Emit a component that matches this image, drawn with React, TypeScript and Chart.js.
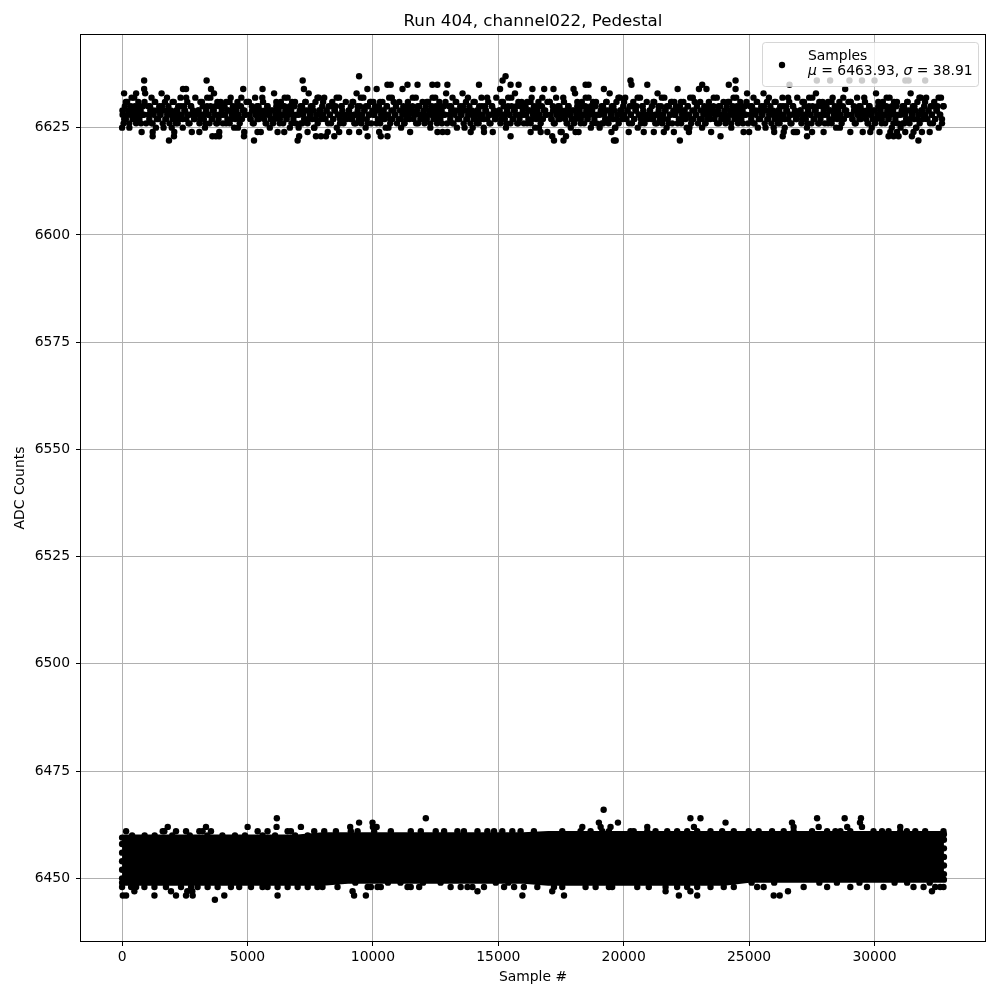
import React, { useEffect, useRef } from "react";
import { Chart, registerables } from "chart.js";

Chart.register(...registerables);

const chartTitle = "Run 404, channel022, Pedestal";
const xAxisLabel = "Sample #";
const yAxisLabel = "ADC Counts";
const legendName = "Samples";
const statMu = "6463.93";
const statSigma = "38.91";

const xTicks = [0, 5000, 10000, 15000, 20000, 25000, 30000];
const yTicks = [6450, 6475, 6500, 6525, 6550, 6575, 6600, 6625];
const xRange = [-1638, 34405];
const yRange = [6435.4, 6646.6];

// Dense pedestal core (lower band): visible lower / upper levels every 1000 samples
const coreX = [0, 1000, 2000, 3000, 4000, 5000, 6000, 7000, 8000, 9000, 10000, 11000, 12000, 13000, 14000, 15000, 16000, 17000, 18000, 19000, 20000, 21000, 22000, 23000, 24000, 25000, 26000, 27000, 28000, 29000, 30000, 31000, 32000, 32767];
const coreTop = [6459.5, 6459.5, 6459.5, 6459.5, 6459.5, 6459.5, 6459.5, 6459.5, 6460, 6460, 6460, 6460, 6460, 6460, 6460, 6460, 6460, 6460.3, 6460.3, 6460.3, 6460.3, 6460.3, 6460.3, 6460.3, 6460.3, 6460.3, 6460.3, 6460.3, 6460.3, 6460.3, 6460.3, 6460.3, 6460.3, 6460.3];
const coreBottom = [6449, 6449, 6449, 6449, 6449, 6449, 6449, 6449, 6449, 6449.5, 6449.5, 6449.5, 6449.5, 6449.5, 6449.5, 6449.5, 6449.5, 6449, 6449, 6449, 6449, 6449, 6449, 6449, 6449, 6449.7, 6449.7, 6449.7, 6449.7, 6449.7, 6449.7, 6449.7, 6449.7, 6449.7];

// Lower band: individually visible samples outside the dense core
const lowerX = [
  0, 0, 0, 0, 0, 32767, 32767, 32767, 32767, 32767,
  400, 900, 1300, 2000, 2700, 3400, 4000, 4500, 4900, 5600, 6100, 6900, 7400,
  160, 1620, 1685, 2150, 2550, 3080, 3210, 3545, 5405, 5800, 6600, 6730, 7660,
  8060, 8525, 9120, 9390, 10050, 10715, 11510, 11910, 12505, 12840, 13370, 13630, 14170, 14565, 14830, 15160, 15560, 15890,
  16420, 17550, 18280, 18680, 19145, 19410, 20270, 20400, 20940, 21270, 21735, 22130, 22530, 22930, 23460, 23925, 24390,
  24985, 25380, 25915, 26380, 26775, 27510, 28110, 28440, 28640, 29035, 29960, 30300, 30560, 31025, 31290, 31625, 32020, 32750,
  1820, 3345, 5005, 6160, 7130, 9095, 10000, 10150, 18350, 19080, 19475, 20940, 22800, 26775, 27775, 28910, 29500, 31025,
  9450, 9985, 19010, 19770, 24060, 26710, 29420,
  6170, 12110, 22660, 23060, 27710, 28810, 29460,
  19200,
  0, 360, 560, 890, 1290, 1750, 2350, 2750, 3010, 3410, 3810, 4340, 4670, 5140, 5600, 5800, 6200, 6600, 7000, 7400, 7790,
  7990, 8590, 9790, 9920, 10185, 10315, 11380, 11510, 11845, 13100, 13500, 13770, 13970, 14430, 15230, 15630, 16020,
  16555, 17220, 17550, 18480, 18880, 19410, 19540, 20540, 21000, 21670, 22130, 22530, 22930, 23460, 23990, 24390,
  25320, 25580, 27175, 28110, 29035, 29700, 30360, 31555, 31955, 32420, 32620, 32750,
  9300, 10600, 11100, 12000, 12700, 14900, 15400, 25100, 26000, 27800, 28500, 29400, 30800, 31300, 32200,
  490, 1950, 2600, 2800, 9190, 14170, 17150, 21670, 22660, 26550, 32290,
  30, 160, 1290, 2150, 2550, 2815, 4075, 6200, 9250, 9720, 15960, 17620, 22200, 22930, 25980, 26220,
  3700,
];
const lowerY = [
  6450, 6452, 6454, 6456, 6458, 6451, 6453, 6455, 6457, 6459,
  6460, 6460, 6460, 6460, 6460, 6460, 6460, 6460, 6460, 6460, 6460, 6460, 6460,
  6461, 6461, 6461, 6461, 6461, 6461, 6461, 6461, 6461, 6461, 6461, 6461, 6461,
  6461, 6461, 6461, 6461, 6461, 6461, 6461, 6461, 6461, 6461, 6461, 6461, 6461, 6461, 6461, 6461, 6461, 6461,
  6461, 6461, 6461, 6461, 6461, 6461, 6461, 6461, 6461, 6461, 6461, 6461, 6461, 6461, 6461, 6461, 6461,
  6461, 6461, 6461, 6461, 6461, 6461, 6461, 6461, 6461, 6461, 6461, 6461, 6461, 6461, 6461, 6461, 6461, 6461,
  6462, 6462, 6462, 6462, 6462, 6462, 6462, 6462, 6462, 6462, 6462, 6462, 6462, 6462, 6462, 6462, 6462, 6462,
  6463, 6463, 6463, 6463, 6463, 6463, 6463,
  6464, 6464, 6464, 6464, 6464, 6464, 6464,
  6466,
  6448, 6448, 6448, 6448, 6448, 6448, 6448, 6448, 6448, 6448, 6448, 6448, 6448, 6448, 6448, 6448, 6448, 6448, 6448, 6448, 6448,
  6448, 6448, 6448, 6448, 6448, 6448, 6448, 6448, 6448, 6448, 6448, 6448, 6448, 6448, 6448, 6448, 6448,
  6448, 6448, 6448, 6448, 6448, 6448, 6448, 6448, 6448, 6448, 6448, 6448, 6448, 6448, 6448, 6448,
  6448, 6448, 6448, 6448, 6448, 6448, 6448, 6448, 6448, 6448, 6448, 6448,
  6449, 6449, 6449, 6449, 6449, 6449, 6449, 6449, 6449, 6449, 6449, 6449, 6449, 6449, 6449,
  6447, 6447, 6447, 6447, 6447, 6447, 6447, 6447, 6447, 6447, 6447,
  6446, 6446, 6446, 6446, 6446, 6446, 6446, 6446, 6446, 6446, 6446, 6446, 6446, 6446, 6446, 6446,
  6445,
];

// Upper band samples
const upperX = [
  20, 60, 110, 150, 200, 240, 290, 330, 380, 420, 470, 510, 560, 600, 650, 690, 740, 780, 830, 870, 920, 960,
  1040, 1085, 1125, 1175, 1215, 1260, 1305, 1350, 1395, 1440, 1485, 1530, 1575, 1620, 1665, 1710, 1755, 1800, 1845, 1890, 1935, 1980,
  2020, 2060, 2110, 2150, 2200, 2240, 2290, 2330, 2380, 2420, 2470, 2510, 2560, 2600, 2650, 2690, 2740, 2780, 2830, 2870, 2920, 2960,
  3040, 3085, 3125, 3175, 3215, 3260, 3305, 3350, 3395, 3440, 3485, 3530, 3575, 3620, 3665, 3710, 3755, 3800, 3845, 3890, 3935, 3980,
  4020, 4060, 4110, 4150, 4200, 4240, 4290, 4330, 4380, 4420, 4470, 4510, 4560, 4600, 4650, 4690, 4740, 4780, 4830, 4870, 4920, 4960,
  5040, 5085, 5125, 5175, 5215, 5260, 5305, 5350, 5395, 5440, 5485, 5530, 5575, 5620, 5665, 5710, 5755, 5800, 5845, 5890, 5935, 5980,
  6020, 6060, 6110, 6150, 6200, 6240, 6290, 6330, 6380, 6420, 6470, 6510, 6560, 6600, 6650, 6690, 6740, 6780, 6830, 6870, 6920, 6960,
  7040, 7085, 7125, 7175, 7215, 7260, 7305, 7350, 7395, 7440, 7485, 7530, 7575, 7620, 7665, 7710, 7755, 7800, 7845, 7890, 7935, 7980,
  8020, 8060, 8110, 8150, 8200, 8240, 8290, 8330, 8380, 8420, 8470, 8510, 8560, 8600, 8650, 8690, 8740, 8780, 8830, 8870, 8920, 8960,
  9040, 9085, 9125, 9175, 9215, 9260, 9305, 9350, 9395, 9440, 9485, 9530, 9575, 9620, 9665, 9710, 9755, 9800, 9845, 9890, 9935, 9980,
  10020, 10060, 10110, 10150, 10200, 10240, 10290, 10330, 10380, 10420, 10470, 10510, 10560, 10600, 10650, 10690, 10740, 10780, 10830, 10870, 10920, 10960,
  11040, 11085, 11125, 11175, 11215, 11260, 11305, 11350, 11395, 11440, 11485, 11530, 11575, 11620, 11665, 11710, 11755, 11800, 11845, 11890, 11935, 11980,
  12020, 12060, 12110, 12150, 12200, 12240, 12290, 12330, 12380, 12420, 12470, 12510, 12560, 12600, 12650, 12690, 12740, 12780, 12830, 12870, 12920, 12960,
  13040, 13085, 13125, 13175, 13215, 13260, 13305, 13350, 13395, 13440, 13485, 13530, 13575, 13620, 13665, 13710, 13755, 13800, 13845, 13890, 13935, 13980,
  14020, 14060, 14110, 14150, 14200, 14240, 14290, 14330, 14380, 14420, 14470, 14510, 14560, 14600, 14650, 14690, 14740, 14780, 14830, 14870, 14920, 14960,
  15040, 15085, 15125, 15175, 15215, 15260, 15305, 15350, 15395, 15440, 15485, 15530, 15575, 15620, 15665, 15710, 15755, 15800, 15845, 15890, 15935, 15980,
  16020, 16060, 16110, 16150, 16200, 16240, 16290, 16330, 16380, 16420, 16470, 16510, 16560, 16600, 16650, 16690, 16740, 16780, 16830, 16870, 16920, 16960,
  17040, 17085, 17125, 17175, 17215, 17260, 17305, 17350, 17395, 17440, 17485, 17530, 17575, 17620, 17665, 17710, 17755, 17800, 17845, 17890, 17935, 17980,
  18020, 18060, 18110, 18150, 18200, 18240, 18290, 18330, 18380, 18420, 18470, 18510, 18560, 18600, 18650, 18690, 18740, 18780, 18830, 18870, 18920, 18960,
  19040, 19085, 19125, 19175, 19215, 19260, 19305, 19350, 19395, 19440, 19485, 19530, 19575, 19620, 19665, 19710, 19755, 19800, 19845, 19890, 19935, 19980,
  20020, 20060, 20110, 20150, 20200, 20240, 20290, 20330, 20380, 20420, 20470, 20510, 20560, 20600, 20650, 20690, 20740, 20780, 20830, 20870, 20920, 20960,
  21040, 21085, 21125, 21175, 21215, 21260, 21305, 21350, 21395, 21440, 21485, 21530, 21575, 21620, 21665, 21710, 21755, 21800, 21845, 21890, 21935, 21980,
  22020, 22060, 22110, 22150, 22200, 22240, 22290, 22330, 22380, 22420, 22470, 22510, 22560, 22600, 22650, 22690, 22740, 22780, 22830, 22870, 22920, 22960,
  23040, 23085, 23125, 23175, 23215, 23260, 23305, 23350, 23395, 23440, 23485, 23530, 23575, 23620, 23665, 23710, 23755, 23800, 23845, 23890, 23935, 23980,
  24020, 24060, 24110, 24150, 24200, 24240, 24290, 24330, 24380, 24420, 24470, 24510, 24560, 24600, 24650, 24690, 24740, 24780, 24830, 24870, 24920, 24960,
  25040, 25085, 25125, 25175, 25215, 25260, 25305, 25350, 25395, 25440, 25485, 25530, 25575, 25620, 25665, 25710, 25755, 25800, 25845, 25890, 25935, 25980,
  26020, 26060, 26110, 26150, 26200, 26240, 26290, 26330, 26380, 26420, 26470, 26510, 26560, 26600, 26650, 26690, 26740, 26780, 26830, 26870, 26920, 26960,
  27040, 27085, 27125, 27175, 27215, 27260, 27305, 27350, 27395, 27440, 27485, 27530, 27575, 27620, 27665, 27710, 27755, 27800, 27845, 27890, 27935, 27980,
  28020, 28060, 28110, 28150, 28200, 28240, 28290, 28330, 28380, 28420, 28470, 28510, 28560, 28600, 28650, 28690, 28740, 28780, 28830, 28870, 28920, 28960,
  29040, 29085, 29125, 29175, 29215, 29260, 29305, 29350, 29395, 29440, 29485, 29530, 29575, 29620, 29665, 29710, 29755, 29800, 29845, 29890, 29935, 29980,
  30020, 30060, 30110, 30150, 30200, 30240, 30290, 30330, 30380, 30420, 30470, 30510, 30560, 30600, 30650, 30690, 30740, 30780, 30830, 30870, 30920, 30960,
  31040, 31085, 31125, 31175, 31215, 31260, 31305, 31350, 31395, 31440, 31485, 31530, 31575, 31620, 31665, 31710, 31755, 31800, 31845, 31890, 31935, 31980,
  32020, 32060, 32110, 32150, 32200, 32240, 32290, 32330, 32380, 32420, 32470, 32510, 32560, 32600, 32650, 32690, 32740,
  880, 3370, 880, 2430, 2550, 3545, 5600, 80, 560,
  7200, 9450, 10580, 10710, 11380, 11780, 12370, 12570, 12970, 7250, 9780, 11180,
  15290, 15170, 14230, 18480, 18600, 15490, 15810, 15070, 16360, 17200, 18000, 19210,
  20270, 20310, 20940, 23130, 24190, 24460, 23000, 23300, 24460,
  26610, 27700, 28230, 29000, 29500, 30000, 31230, 31360, 32020,
  0, 1220, 2070, 3600, 3740, 3870, 4860, 1870, 5260,
  1220, 2080, 3080, 3875, 4870, 5400,
  7060, 7730, 7930, 8130, 8460, 9790, 10315, 10580, 7000,
  6465, 7395, 8655, 9055, 9450, 10250, 12575, 12970,
  13900, 14430, 15490, 17150, 17220, 17600, 17700, 19610, 19680, 19510,
  16290, 16690, 16955, 17485, 18080,
  22240, 23860, 26340, 20800, 21200, 21600, 22000, 22600, 25000, 26000, 26380,
  27310, 30560, 30760, 30960, 31490, 31750,
  26845, 26910, 27510, 27970, 29035, 29830, 30630, 30895, 31225, 31555, 31890,
];
const upperY = [
  6628, 6626, 6630, 6627, 6631, 6629, 6625, 6628, 6632, 6627, 6629, 6630, 6626, 6628, 6631, 6627, 6629, 6624, 6630, 6628, 6633, 6626,
  6630, 6627, 6629, 6632, 6626, 6628, 6631, 6625, 6629, 6627, 6630, 6628, 6633, 6626, 6629, 6631, 6627, 6628, 6630, 6626, 6629, 6625,
  6627, 6631, 6628, 6626, 6629, 6630, 6627, 6632, 6628, 6625, 6630, 6629, 6627, 6631, 6626, 6628, 6630, 6624, 6629, 6627, 6632, 6628,
  6629, 6626, 6631, 6628, 6630, 6627, 6625, 6629, 6632, 6628, 6626, 6630, 6627, 6629, 6633, 6628, 6626, 6631, 6627, 6630, 6628, 6629,
  6626, 6630, 6628, 6631, 6627, 6629, 6626, 6632, 6628, 6630, 6625, 6627, 6629, 6631, 6628, 6626, 6630, 6627, 6634, 6629, 6628, 6631,
  6631, 6628, 6627, 6630, 6626, 6629, 6632, 6628, 6627, 6630, 6629, 6624, 6628, 6631, 6627, 6629, 6626, 6630, 6628, 6625, 6629, 6627,
  6626, 6633, 6628, 6630, 6624, 6629, 6627, 6631, 6628, 6626, 6630, 6629, 6627, 6632, 6628, 6625, 6629, 6631, 6627, 6630, 6626, 6628,
  6625, 6629, 6626, 6630, 6628, 6627, 6631, 6629, 6626, 6633, 6628, 6630, 6627, 6629, 6625, 6631, 6628, 6626, 6632, 6629, 6627, 6630,
  6628, 6632, 6627, 6629, 6624, 6630, 6628, 6626, 6631, 6627, 6629, 6630, 6625, 6628, 6632, 6627, 6630, 6629, 6626, 6628, 6631, 6627,
  6629, 6628, 6630, 6627, 6631, 6626, 6628, 6633, 6629, 6627, 6630, 6626, 6628, 6632, 6629, 6625, 6627, 6630, 6628, 6631, 6626, 6629,
  6631, 6628, 6629, 6634, 6627, 6630, 6626, 6628, 6631, 6629, 6627, 6625, 6630, 6628, 6632, 6626, 6629, 6627, 6631, 6628, 6630, 6626,
  6627, 6629, 6625, 6628, 6630, 6626, 6629, 6627, 6631, 6628, 6624, 6629, 6630, 6627, 6628, 6632, 6629, 6626, 6630, 6627, 6628, 6631,
  6628, 6626, 6630, 6627, 6631, 6629, 6625, 6628, 6632, 6627, 6629, 6630, 6626, 6628, 6631, 6627, 6629, 6624, 6630, 6628, 6633, 6626,
  6630, 6627, 6629, 6632, 6626, 6628, 6631, 6625, 6629, 6627, 6630, 6628, 6633, 6626, 6629, 6631, 6627, 6628, 6630, 6626, 6629, 6625,
  6627, 6631, 6628, 6626, 6629, 6630, 6627, 6632, 6628, 6625, 6630, 6629, 6627, 6631, 6626, 6628, 6630, 6624, 6629, 6627, 6632, 6628,
  6629, 6626, 6631, 6628, 6630, 6627, 6625, 6629, 6632, 6628, 6626, 6630, 6627, 6629, 6633, 6628, 6626, 6631, 6627, 6630, 6628, 6629,
  6626, 6630, 6628, 6631, 6627, 6629, 6626, 6632, 6628, 6630, 6625, 6627, 6629, 6631, 6628, 6626, 6630, 6627, 6634, 6629, 6628, 6631,
  6631, 6628, 6627, 6630, 6626, 6629, 6632, 6628, 6627, 6630, 6629, 6624, 6628, 6631, 6627, 6629, 6626, 6630, 6628, 6625, 6629, 6627,
  6626, 6633, 6628, 6630, 6624, 6629, 6627, 6631, 6628, 6626, 6630, 6629, 6627, 6632, 6628, 6625, 6629, 6631, 6627, 6630, 6626, 6628,
  6625, 6629, 6626, 6630, 6628, 6627, 6631, 6629, 6626, 6633, 6628, 6630, 6627, 6629, 6625, 6631, 6628, 6626, 6632, 6629, 6627, 6630,
  6628, 6632, 6627, 6629, 6624, 6630, 6628, 6626, 6631, 6627, 6629, 6630, 6625, 6628, 6632, 6627, 6630, 6629, 6626, 6628, 6631, 6627,
  6629, 6628, 6630, 6627, 6631, 6626, 6628, 6633, 6629, 6627, 6630, 6626, 6628, 6632, 6629, 6625, 6627, 6630, 6628, 6631, 6626, 6629,
  6631, 6628, 6629, 6634, 6627, 6630, 6626, 6628, 6631, 6629, 6627, 6625, 6630, 6628, 6632, 6626, 6629, 6627, 6631, 6628, 6630, 6626,
  6627, 6629, 6625, 6628, 6630, 6626, 6629, 6627, 6631, 6628, 6624, 6629, 6630, 6627, 6628, 6632, 6629, 6626, 6630, 6627, 6628, 6631,
  6628, 6626, 6630, 6627, 6631, 6629, 6625, 6628, 6632, 6627, 6629, 6630, 6626, 6628, 6631, 6627, 6629, 6624, 6630, 6628, 6633, 6626,
  6630, 6627, 6629, 6632, 6626, 6628, 6631, 6625, 6629, 6627, 6630, 6628, 6633, 6626, 6629, 6631, 6627, 6628, 6630, 6626, 6629, 6625,
  6627, 6631, 6628, 6626, 6629, 6630, 6627, 6632, 6628, 6625, 6630, 6629, 6627, 6631, 6626, 6628, 6630, 6624, 6629, 6627, 6632, 6628,
  6629, 6626, 6631, 6628, 6630, 6627, 6625, 6629, 6632, 6628, 6626, 6630, 6627, 6629, 6633, 6628, 6626, 6631, 6627, 6630, 6628, 6629,
  6626, 6630, 6628, 6631, 6627, 6629, 6626, 6632, 6628, 6630, 6625, 6627, 6629, 6631, 6628, 6626, 6630, 6627, 6634, 6629, 6628, 6631,
  6631, 6628, 6627, 6630, 6626, 6629, 6632, 6628, 6627, 6630, 6629, 6624, 6628, 6631, 6627, 6629, 6626, 6630, 6628, 6625, 6629, 6627,
  6626, 6633, 6628, 6630, 6624, 6629, 6627, 6631, 6628, 6626, 6630, 6629, 6627, 6632, 6628, 6625, 6629, 6631, 6627, 6630, 6626, 6628,
  6625, 6629, 6626, 6630, 6628, 6627, 6631, 6629, 6626, 6633, 6628, 6630, 6627, 6629, 6625, 6631, 6628, 6626, 6632, 6629, 6627, 6630,
  6628, 6632, 6627, 6629, 6624, 6630, 6628, 6626, 6631, 6627, 6629, 6630, 6625, 6628, 6632, 6627, 6630,
  6636, 6636, 6634, 6634, 6634, 6634, 6634, 6633, 6633,
  6636, 6637, 6635, 6635, 6635, 6635, 6635, 6635, 6635, 6634, 6634, 6634,
  6637, 6636, 6635, 6635, 6635, 6635, 6635, 6634, 6634, 6634, 6634, 6634,
  6636, 6635, 6635, 6635, 6635, 6636, 6634, 6634, 6634,
  6635, 6636, 6636, 6636, 6636, 6636, 6636, 6636, 6636,
  6625, 6623, 6623, 6623, 6623, 6623, 6623, 6622, 6622,
  6624, 6624, 6624, 6624, 6624, 6624,
  6623, 6623, 6623, 6623, 6623, 6623, 6623, 6623, 6622,
  6624, 6624, 6624, 6624, 6624, 6624, 6624, 6624,
  6624, 6624, 6623, 6623, 6622, 6622, 6623, 6622, 6622, 6624,
  6624, 6624, 6624, 6624, 6624,
  6622, 6623, 6623, 6624, 6624, 6624, 6624, 6624, 6624, 6624, 6624,
  6623, 6623, 6623, 6623, 6623, 6622,
  6624, 6624, 6624, 6624, 6624, 6624, 6624, 6624, 6624, 6624, 6624,
];

// Upper band, further samples in the crowded middle levels
const upperCoreX = [
  15, 85, 150, 215, 285, 350, 420, 485, 555, 620, 690, 755, 825, 895,
  1050, 1115, 1185, 1250, 1320, 1385, 1455, 1520, 1590, 1655, 1725, 1790, 1860, 1930,
  2015, 2085, 2150, 2215, 2285, 2350, 2420, 2485, 2555, 2620, 2690, 2755, 2825, 2895,
  3050, 3115, 3185, 3250, 3320, 3385, 3455, 3520, 3590, 3655, 3725, 3790, 3860, 3930,
  4015, 4085, 4150, 4215, 4285, 4350, 4420, 4485, 4555, 4620, 4690, 4755, 4825, 4895,
  5050, 5115, 5185, 5250, 5320, 5385, 5455, 5520, 5590, 5655, 5725, 5790, 5860, 5930,
  6015, 6085, 6150, 6215, 6285, 6350, 6420, 6485, 6555, 6620, 6690, 6755, 6825, 6895,
  7050, 7115, 7185, 7250, 7320, 7385, 7455, 7520, 7590, 7655, 7725, 7790, 7860, 7930,
  8015, 8085, 8150, 8215, 8285, 8350, 8420, 8485, 8555, 8620, 8690, 8755, 8825, 8895,
  9050, 9115, 9185, 9250, 9320, 9385, 9455, 9520, 9590, 9655, 9725, 9790, 9860, 9930,
  10015, 10085, 10150, 10215, 10285, 10350, 10420, 10485, 10555, 10620, 10690, 10755, 10825, 10895,
  11050, 11115, 11185, 11250, 11320, 11385, 11455, 11520, 11590, 11655, 11725, 11790, 11860, 11930,
  12015, 12085, 12150, 12215, 12285, 12350, 12420, 12485, 12555, 12620, 12690, 12755, 12825, 12895,
  13050, 13115, 13185, 13250, 13320, 13385, 13455, 13520, 13590, 13655, 13725, 13790, 13860, 13930,
  14015, 14085, 14150, 14215, 14285, 14350, 14420, 14485, 14555, 14620, 14690, 14755, 14825, 14895,
  15050, 15115, 15185, 15250, 15320, 15385, 15455, 15520, 15590, 15655, 15725, 15790, 15860, 15930,
  16015, 16085, 16150, 16215, 16285, 16350, 16420, 16485, 16555, 16620, 16690, 16755, 16825, 16895,
  17050, 17115, 17185, 17250, 17320, 17385, 17455, 17520, 17590, 17655, 17725, 17790, 17860, 17930,
  18015, 18085, 18150, 18215, 18285, 18350, 18420, 18485, 18555, 18620, 18690, 18755, 18825, 18895,
  19050, 19115, 19185, 19250, 19320, 19385, 19455, 19520, 19590, 19655, 19725, 19790, 19860, 19930,
  20015, 20085, 20150, 20215, 20285, 20350, 20420, 20485, 20555, 20620, 20690, 20755, 20825, 20895,
  21050, 21115, 21185, 21250, 21320, 21385, 21455, 21520, 21590, 21655, 21725, 21790, 21860, 21930,
  22015, 22085, 22150, 22215, 22285, 22350, 22420, 22485, 22555, 22620, 22690, 22755, 22825, 22895,
  23050, 23115, 23185, 23250, 23320, 23385, 23455, 23520, 23590, 23655, 23725, 23790, 23860, 23930,
  24015, 24085, 24150, 24215, 24285, 24350, 24420, 24485, 24555, 24620, 24690, 24755, 24825, 24895,
  25050, 25115, 25185, 25250, 25320, 25385, 25455, 25520, 25590, 25655, 25725, 25790, 25860, 25930,
  26015, 26085, 26150, 26215, 26285, 26350, 26420, 26485, 26555, 26620, 26690, 26755, 26825, 26895,
  27050, 27115, 27185, 27250, 27320, 27385, 27455, 27520, 27590, 27655, 27725, 27790, 27860, 27930,
  28015, 28085, 28150, 28215, 28285, 28350, 28420, 28485, 28555, 28620, 28690, 28755, 28825, 28895,
  29050, 29115, 29185, 29250, 29320, 29385, 29455, 29520, 29590, 29655, 29725, 29790, 29860, 29930,
  30015, 30085, 30150, 30215, 30285, 30350, 30420, 30485, 30555, 30620, 30690, 30755, 30825, 30895,
  31050, 31115, 31185, 31250, 31320, 31385, 31455, 31520, 31590, 31655, 31725, 31790, 31860, 31930,
  32015, 32085, 32150, 32215, 32285, 32350, 32420, 32485, 32555, 32620, 32690, 32755,
];
const upperCoreY = [
  6629, 6627, 6631, 6628, 6626, 6630, 6628, 6632, 6627, 6629, 6630, 6626, 6628, 6631,
  6628, 6630, 6626, 6629, 6631, 6627, 6629, 6628, 6630, 6625, 6627, 6632, 6629, 6628,
  6631, 6627, 6629, 6626, 6628, 6630, 6627, 6629, 6632, 6628, 6626, 6630, 6628, 6627,
  6629, 6627, 6631, 6628, 6626, 6630, 6628, 6632, 6627, 6629, 6630, 6626, 6628, 6631,
  6628, 6630, 6626, 6629, 6631, 6627, 6629, 6628, 6630, 6625, 6627, 6632, 6629, 6628,
  6631, 6627, 6629, 6626, 6628, 6630, 6627, 6629, 6632, 6628, 6626, 6630, 6628, 6627,
  6629, 6627, 6631, 6628, 6626, 6630, 6628, 6632, 6627, 6629, 6630, 6626, 6628, 6631,
  6628, 6630, 6626, 6629, 6631, 6627, 6629, 6628, 6630, 6625, 6627, 6632, 6629, 6628,
  6631, 6627, 6629, 6626, 6628, 6630, 6627, 6629, 6632, 6628, 6626, 6630, 6628, 6627,
  6629, 6627, 6631, 6628, 6626, 6630, 6628, 6632, 6627, 6629, 6630, 6626, 6628, 6631,
  6628, 6630, 6626, 6629, 6631, 6627, 6629, 6628, 6630, 6625, 6627, 6632, 6629, 6628,
  6631, 6627, 6629, 6626, 6628, 6630, 6627, 6629, 6632, 6628, 6626, 6630, 6628, 6627,
  6629, 6627, 6631, 6628, 6626, 6630, 6628, 6632, 6627, 6629, 6630, 6626, 6628, 6631,
  6628, 6630, 6626, 6629, 6631, 6627, 6629, 6628, 6630, 6625, 6627, 6632, 6629, 6628,
  6631, 6627, 6629, 6626, 6628, 6630, 6627, 6629, 6632, 6628, 6626, 6630, 6628, 6627,
  6629, 6627, 6631, 6628, 6626, 6630, 6628, 6632, 6627, 6629, 6630, 6626, 6628, 6631,
  6628, 6630, 6626, 6629, 6631, 6627, 6629, 6628, 6630, 6625, 6627, 6632, 6629, 6628,
  6631, 6627, 6629, 6626, 6628, 6630, 6627, 6629, 6632, 6628, 6626, 6630, 6628, 6627,
  6629, 6627, 6631, 6628, 6626, 6630, 6628, 6632, 6627, 6629, 6630, 6626, 6628, 6631,
  6628, 6630, 6626, 6629, 6631, 6627, 6629, 6628, 6630, 6625, 6627, 6632, 6629, 6628,
  6631, 6627, 6629, 6626, 6628, 6630, 6627, 6629, 6632, 6628, 6626, 6630, 6628, 6627,
  6629, 6627, 6631, 6628, 6626, 6630, 6628, 6632, 6627, 6629, 6630, 6626, 6628, 6631,
  6628, 6630, 6626, 6629, 6631, 6627, 6629, 6628, 6630, 6625, 6627, 6632, 6629, 6628,
  6631, 6627, 6629, 6626, 6628, 6630, 6627, 6629, 6632, 6628, 6626, 6630, 6628, 6627,
  6629, 6627, 6631, 6628, 6626, 6630, 6628, 6632, 6627, 6629, 6630, 6626, 6628, 6631,
  6628, 6630, 6626, 6629, 6631, 6627, 6629, 6628, 6630, 6625, 6627, 6632, 6629, 6628,
  6631, 6627, 6629, 6626, 6628, 6630, 6627, 6629, 6632, 6628, 6626, 6630, 6628, 6627,
  6629, 6627, 6631, 6628, 6626, 6630, 6628, 6632, 6627, 6629, 6630, 6626, 6628, 6631,
  6628, 6630, 6626, 6629, 6631, 6627, 6629, 6628, 6630, 6625, 6627, 6632, 6629, 6628,
  6631, 6627, 6629, 6626, 6628, 6630, 6627, 6629, 6632, 6628, 6626, 6630, 6628, 6627,
  6629, 6627, 6631, 6628, 6626, 6630, 6628, 6632, 6627, 6629, 6630, 6626, 6628, 6631,
  6628, 6630, 6626, 6629, 6631, 6627, 6629, 6628, 6630, 6625, 6627, 6632, 6629, 6628,
  6631, 6627, 6629, 6626, 6628, 6630, 6627, 6629, 6632, 6628, 6626, 6630,
];

const FONT = "'DejaVu Sans', 'Liberation Sans', sans-serif";

const framePlugin = {
  id: "frameAndLegend",
  afterDatasetsDraw(chart: any) {
    const { ctx, chartArea } = chart;
    const l = Math.round(chartArea.left), t = Math.round(chartArea.top);
    const r = Math.round(chartArea.right), b = Math.round(chartArea.bottom);
    ctx.save();
    ctx.strokeStyle = "#000";
    ctx.lineWidth = 1;
    ctx.strokeRect(l - 0.5, t - 0.5, r - l + 1, b - t + 1);
    ctx.restore();
  },
  afterDraw(chart: any) {
    const { ctx, chartArea } = chart;
    ctx.save();
    ctx.fillStyle = "#000";
    ctx.font = `16.7px ${FONT}`;
    ctx.textAlign = "center";
    ctx.textBaseline = "middle";
    ctx.fillText(chartTitle, (chartArea.left + chartArea.right) / 2, chartArea.top - 13.5);

    const bw = 216, bh = 44;
    const bx = chartArea.right - 7 - bw + 0.5;
    const by = chartArea.top + 7.5;
    const rad = 3;
    ctx.beginPath();
    ctx.moveTo(bx + rad, by);
    ctx.lineTo(bx + bw - rad, by);
    ctx.arcTo(bx + bw, by, bx + bw, by + rad, rad);
    ctx.lineTo(bx + bw, by + bh - rad);
    ctx.arcTo(bx + bw, by + bh, bx + bw - rad, by + bh, rad);
    ctx.lineTo(bx + rad, by + bh);
    ctx.arcTo(bx, by + bh, bx, by + bh - rad, rad);
    ctx.lineTo(bx, by + rad);
    ctx.arcTo(bx, by, bx + rad, by, rad);
    ctx.closePath();
    ctx.fillStyle = "rgba(255,255,255,0.8)";
    ctx.fill();
    ctx.strokeStyle = "rgba(204,204,204,0.8)";
    ctx.lineWidth = 1;
    ctx.stroke();

    ctx.beginPath();
    ctx.arc(bx + 19.5, by + 22.5, 3.2, 0, Math.PI * 2);
    ctx.fillStyle = "#000";
    ctx.fill();

    ctx.textAlign = "left";
    ctx.textBaseline = "alphabetic";
    const tx = bx + 45.5;
    ctx.font = `13.9px ${FONT}`;
    ctx.fillText(legendName, tx, by + 17.5);
    const parts: [string, boolean][] = [
      ["\u03bc", true],
      [" = " + statMu + ", ", false],
      ["\u03c3", true],
      [" = " + statSigma, false],
    ];
    let cx = tx;
    for (const [txt, ital] of parts) {
      ctx.font = `${ital ? "italic " : ""}13.9px ${FONT}`;
      ctx.fillText(txt, cx, by + 32.5);
      cx += ctx.measureText(txt).width;
    }
    ctx.restore();
  },
};

export default function App() {
  const ref = useRef<HTMLCanvasElement | null>(null);

  useEffect(() => {
    if (!ref.current) return;
    const pts = (xs: number[], ys: number[]) => xs.map((x, i) => ({ x, y: ys[i] }));
    const tickFont = { family: FONT, size: 13.9 };
    const dot = {
      backgroundColor: "#000",
      borderColor: "#000",
      pointRadius: 3.2,
      pointBorderWidth: 0,
    };
    const chart = new Chart(ref.current, {
      type: "scatter",
      data: {
        datasets: [
          {
            type: "line",
            label: "core-bottom",
            data: pts(coreX, coreBottom),
            borderColor: "#000",
            backgroundColor: "#000",
            borderWidth: 6.4,
            borderCapStyle: "round",
            borderJoinStyle: "round",
            pointRadius: 0,
            fill: false,
            tension: 0,
          } as any,
          {
            type: "line",
            label: "core-top",
            data: pts(coreX, coreTop),
            borderColor: "#000",
            backgroundColor: "#000",
            borderWidth: 6.4,
            borderCapStyle: "round",
            borderJoinStyle: "round",
            pointRadius: 0,
            fill: "-1",
            tension: 0,
          } as any,
          { label: legendName, data: pts(upperX, upperY), ...dot },
          { label: legendName + " (upper core)", data: pts(upperCoreX, upperCoreY), ...dot },
          { label: legendName + " (lower)", data: pts(lowerX, lowerY), ...dot },
        ],
      },
      options: {
        animation: false,
        responsive: false,
        maintainAspectRatio: false,
        events: [],
        layout: { padding: { top: 35, right: 15, left: 0, bottom: 0 } },
        plugins: {
          legend: { display: false },
          tooltip: { enabled: false },
          title: { display: false },
        },
        scales: {
          x: {
            type: "linear",
            min: xRange[0],
            max: xRange[1],
            afterBuildTicks: (s: any) => {
              s.ticks = xTicks.map((v) => ({ value: v }));
            },
            afterFit: (s: any) => {
              s.height = 59;
            },
            border: { display: false },
            grid: { color: "#b0b0b0", lineWidth: 1, tickColor: "#000", tickLength: 5, drawTicks: true },
            ticks: {
              color: "#000",
              font: tickFont,
              padding: 3,
              maxRotation: 0,
              autoSkip: false,
              callback: (v: any) => String(v),
            },
            title: {
              display: true,
              text: xAxisLabel,
              color: "#000",
              font: tickFont,
              padding: { top: 0, bottom: 14.5 },
            },
          },
          y: {
            type: "linear",
            min: yRange[0],
            max: yRange[1],
            afterBuildTicks: (s: any) => {
              s.ticks = yTicks.map((v) => ({ value: v }));
            },
            afterFit: (s: any) => {
              s.width = 81;
            },
            border: { display: false },
            grid: { color: "#b0b0b0", lineWidth: 1, tickColor: "#000", tickLength: 5, drawTicks: true },
            ticks: {
              color: "#000",
              font: tickFont,
              padding: 6,
              autoSkip: false,
              callback: (v: any) => String(v),
            },
            title: {
              display: true,
              text: yAxisLabel,
              color: "#000",
              font: tickFont,
              padding: { top: 12.5, bottom: 0 },
            },
          },
        },
      },
      plugins: [framePlugin],
    } as any);
    return () => chart.destroy();
  }, []);

  return (
    <div style={{ position: "fixed", left: 0, top: 0, width: 1000, height: 1000, background: "#fff" }}>
      <canvas ref={ref} width={1000} height={1000} style={{ display: "block", width: 1000, height: 1000 }} />
    </div>
  );
}
